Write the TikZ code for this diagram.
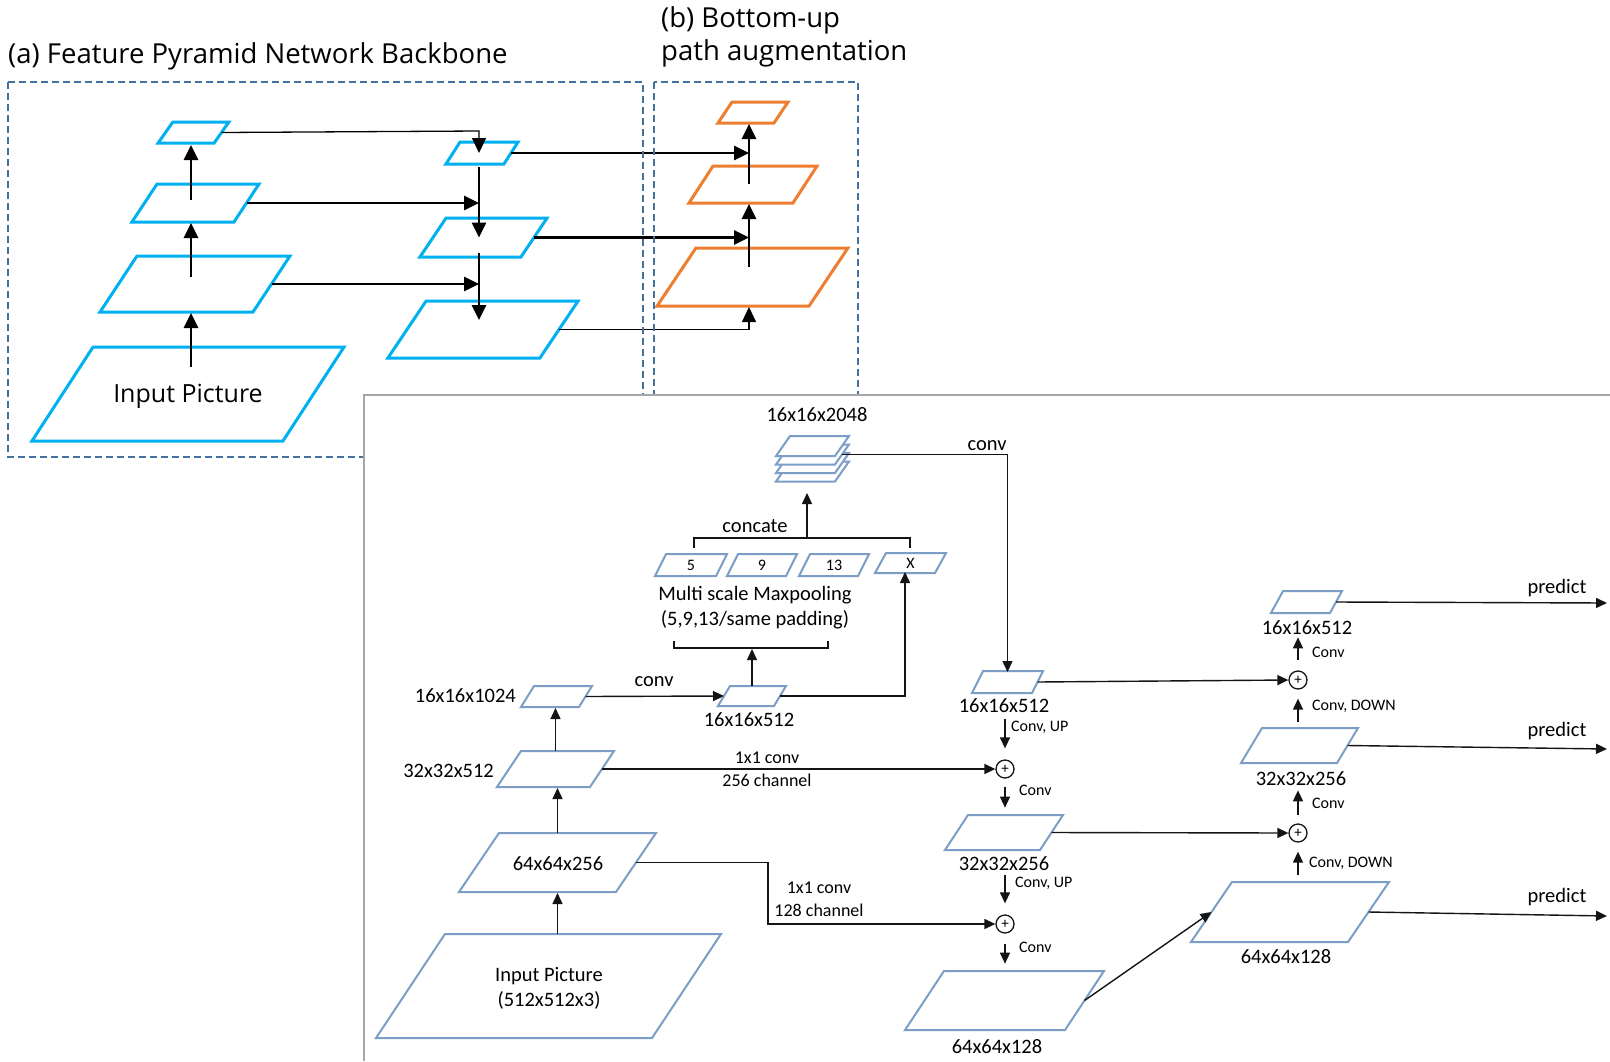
\documentclass[tikz,border=0pt]{standalone}
\usepackage{fontspec}
\setmainfont{Carlito}
\newfontfamily\hdfont{Open Sans}
\usetikzlibrary{arrows.meta,calc}
\definecolor{cyanb}{RGB}{0,176,240}
\definecolor{orng}{RGB}{237,125,49}
\definecolor{dashb}{RGB}{65,113,156}
\definecolor{pale}{RGB}{124,158,198}
\definecolor{framegray}{RGB}{166,166,166}
\definecolor{ink}{RGB}{20,20,20}
\begin{document}
\begin{tikzpicture}[x=1pt,y=-1pt,
  par/.style={rectangle, xslant=#1, transform shape, inner sep=0pt, outer sep=0pt},
  fpn/.style={par=#1, draw=cyanb, line width=3pt},
  pan/.style={par=#1, draw=orng, line width=3pt},
  fm/.style={par=#1, draw=pale, line width=2pt, fill=white},
  thick arrow/.style={draw=black, line width=2.7pt, -{Triangle[length=15pt,width=14pt]}},
  thin arrow/.style={draw=black, line width=1.3pt, -{Triangle[length=15pt,width=14pt]}},
  arr/.style={draw=ink, line width=1.4pt, -{Triangle[length=11pt,width=10pt]}},
  ln/.style={draw=ink, line width=1.4pt},
  hd/.style={inner sep=0pt, anchor=west, font=\hdfont\fontsize{27.5}{32}\selectfont},
  big/.style={inner sep=0pt, font=\fontsize{20.5}{25}\selectfont},
  mid/.style={inner sep=0pt, font=\fontsize{18}{22}\selectfont},
  small/.style={inner sep=0pt, anchor=west, font=\fontsize{16}{19}\selectfont},
  tiny/.style={inner sep=0pt, font=\fontsize{16}{18}\selectfont},
  plus/.style={circle, draw=ink, line width=1.3pt, minimum size=18pt, inner sep=0pt, fill=white, font=\fontsize{15}{15}\selectfont}
]
\useasboundingbox (0,0) rectangle (1610,1061);

% ---------------- (a) feature pyramid backbone ----------------
\node[hd] (ta) at (8,56) {(a) Feature Pyramid Network Backbone};
\node[hd] (tb1) at (661,20) {(b) Bottom-up};
\node[hd] (tb2) at (661,53) {path augmentation};

\node[fpn=0.7, minimum width=56, minimum height=21] (P1) at (193.5,132.5) {};
\node[fpn=0.66, minimum width=102, minimum height=38] (P2) at (195.5,203) {};
\node[fpn=0.66, minimum width=153, minimum height=56] (P3) at (195,284) {};
\node[fpn=0.65, minimum width=251, minimum height=94] (P4) at (188,394) {};
\node[inner sep=0pt, font=\hdfont\fontsize{25}{30}\selectfont] (tP4) at (188,396) {Input Picture};

\node[fpn=0.64, minimum width=58, minimum height=22] (Q1) at (482,153) {};
\node[fpn=0.67, minimum width=101, minimum height=39] (Q2) at (483.5,237.5) {};
\node[fpn=0.67, minimum width=152, minimum height=57] (Q3) at (483,329.5) {};

\node[pan=0.67, minimum width=56, minimum height=21] (R1) at (753,112.5) {};
\node[pan=0.65, minimum width=104, minimum height=37] (R2) at (753,184.5) {};
\node[pan=0.67, minimum width=152, minimum height=58] (R3) at (752.5,277) {};

% bottom-up arrows of the backbone
\coordinate (u1) at (191,367);
\coordinate (u2) at (191,277);
\coordinate (u3) at (191,200);
\draw[thick arrow] (u1) -- ([yshift=-1pt]u1 |- P3.south);
\draw[thick arrow] (u2) -- ([yshift=-1pt]u2 |- P2.south);
\draw[thick arrow] (u3) -- ([yshift=-2pt]u3 |- P1.south);

% top-down pathway
\coordinate (d0) at (479,131);
\coordinate (d1) at (479,167);
\coordinate (d2) at (479,253);
\coordinate (d3) at (479,320);
\draw[thin arrow] (P1.east) -- (d0) -- (d0 |- Q1.center);
\draw[thick arrow] (d1) -- (d1 |- Q2.center);
\draw[thick arrow] (d2) -- (d3);
\draw[thick arrow] (P2.east) -- (P2.east -| d1);
\draw[thick arrow] (P3.east) -- (P3.east -| d1);

% augmented bottom-up path
\coordinate (e0) at (749,307);
\coordinate (e2) at (749,267);
\coordinate (e3) at (749,184);
\draw[thin arrow] (Q3.east) -| (e0);
\draw[thick arrow] (e2) -- ([yshift=-1pt]e2 |- R2.south);
\draw[thick arrow] (e3) -- ([yshift=-1pt]e3 |- R1.south);
\draw[thick arrow] (Q1.east) -- (Q1.east -| e0);
\draw[thick arrow] (Q2.east) -- (Q2.east -| e0);

% dashed frames
\draw[dashb, line width=2pt, dash pattern=on 7pt off 4pt] (8,82) rectangle (643,457);
\draw[dashb, line width=2pt, dash pattern=on 7pt off 4pt] (654,82) rectangle (858,457);

% ---------------- detector network panel ----------------
\fill[white] (364,395) rectangle (1610,1061);
\draw[framegray, line width=1.6pt] (364,1061) -- (364,395) -- (1610,395);

% backbone stages
\node[fm=0.663, minimum width=276, minimum height=104] (F4) at (548.5,986) {};
\node[fm=0.678, minimum width=157, minimum height=59] (F3) at (557.5,862.5) {};
\node[fm=0.667, minimum width=93, minimum height=36] (F2) at (555.5,769) {};
\node[fm=0.62, minimum width=58, minimum height=21] (F1) at (556.5,696.5) {};
\node[fm=0.6, minimum width=56, minimum height=20] (M1) at (752,696) {};
\node[big, align=center] (tF4) at (549,988.5) {Input Picture\\(512x512x3)};
\node[big] (tF3) at (558,864) {64x64x256};
\node[big, anchor=east] (lF1) at (516,696) {16x16x1024};
\node[big, anchor=east] (lF2) at (494,771) {32x32x512};
\node[big] (lM1) at (749,720) {16x16x512};
\node[big] (lconv1) at (654,682) {conv};

\draw[arr] (F3.center |- F4.north) -- ([yshift=-1pt]F3.center |- F3.south);
\draw[arr] (F3.center |- F3.north) -- ([yshift=-1pt]F3.center |- F2.south);
\draw[arr] (F2.center |- F2.north) -- ([yshift=-1pt]F2.center |- F1.south);
\draw[arr] (F1.east) -- (M1.west);

% multi scale max pooling
\node[fm=0.5, minimum width=61, minimum height=22] (K5) at (691,565) {};
\node[fm=0.5, minimum width=59, minimum height=22] (K9) at (762,565) {};
\node[fm=0.5, minimum width=59, minimum height=22] (K13) at (834,565) {};
\node[fm=0.55, minimum width=60, minimum height=20] (KX) at (910.5,563) {};
\node[tiny] (t5) at (K5.center) {5};
\node[tiny] (t9) at (K9.center) {9};
\node[tiny] (t13) at (K13.center) {13};
\node[tiny] (tX) at (KX.center) {X};
\node[big, align=center] (lmp) at (755,607.5) {Multi scale Maxpooling\\(5,9,13/same padding)};
\node[big] (lcat) at (755,526) {concate};

\coordinate (bb) at (751,648);
\draw[ln] (674,641) -- (674,648) -- (828,648) -- (828,641);
\draw[arr] (M1.center |- M1.north) -- ([yshift=-1pt]M1.center |- bb);
\draw[arr] (M1.east) -| ([yshift=1pt]KX.south);

\coordinate (tb) at (807,538);
\coordinate (tbt) at (807,493);
\draw[ln] (694,548) -- (694,538) -- (910,538) -- (910,548);
\draw[arr] (tb) -- (tbt);

% concatenated feature stack
\node[fm=0.7, minimum width=59, minimum height=20] (S4) at (812.5,471.5) {};
\node[fm=0.7, minimum width=59, minimum height=20] (S3) at (812.5,463) {};
\node[fm=0.7, minimum width=59, minimum height=20] (S2) at (812.5,454.5) {};
\node[fm=0.7, minimum width=59, minimum height=20] (S1) at (812.5,446) {};
\node[big] (lS) at (817,415) {16x16x2048};

% neck: top-down
\node[fm=0.5, minimum width=60, minimum height=22] (A1) at (1007.5,682) {};
\node[fm=0.657, minimum width=95, minimum height=35] (A2) at (1004,832.5) {};
\node[fm=0.66, minimum width=160, minimum height=59] (A3) at (1004.5,1000.5) {};
\node[big] (lA1) at (1004,706) {16x16x512};
\node[big] (lA2) at (1004,864) {32x32x256};
\node[big] (lA3) at (997,1047) {64x64x128};
\node[plus] (C1) at (1005,769) {+};
\node[plus] (C2) at (1005,924) {+};

\draw[arr] (S2.east) -| ([yshift=-1pt]A1.center |- A1.north);
\node[big] (lconv2) at (987,446) {conv};

\draw[arr] (F2.east) -- (C1.west);
\node[mid] (l256a) at (767,758) {1x1 conv};
\node[mid] (l256b) at (767,780) {256 channel};

\coordinate (k) at (768,900);
\draw[arr] (F3.east) -- (F3.east -| k) -- (k |- C2.west) -- (C2.west);
\node[mid] (l128a) at (819,888) {1x1 conv};
\node[mid] (l128b) at (819,910) {128 channel};

\draw[arr] ($(C1.north)+(0,-40)$) -- ($(C1.north)+(0,-11)$);
\node[small] (lup1) at (1011,727) {Conv, UP};
\draw[arr] ($(C1.south)+(0,8)$) -- ($(C1.south)+(0,29)$);
\node[small] (lc1) at (1019,790) {Conv};
\draw[arr] ($(C2.north)+(0,-39)$) -- ($(C2.north)+(0,-11)$);
\node[small] (lup2) at (1015,883) {Conv, UP};
\draw[arr] ($(C2.south)+(0,10)$) -- ($(C2.south)+(0,30)$);
\node[small] (lc2) at (1019,947) {Conv};

% neck: bottom-up
\node[fm=0.55, minimum width=59, minimum height=22] (B1) at (1306.5,602) {};
\node[fm=0.6, minimum width=96, minimum height=35] (B2) at (1299.5,745.5) {};
\node[fm=0.683, minimum width=157, minimum height=60] (B3) at (1290,912) {};
\node[big] (lB1) at (1307,628) {16x16x512};
\node[big] (lB2) at (1301,779) {32x32x256};
\node[big] (lB3) at (1286,957) {64x64x128};
\node[plus] (C3) at (1298,680) {+};
\node[plus] (C4) at (1298,833) {+};

\draw[arr] (A3.east) -- (B3.west);
\draw[arr] (A2.east) -- (C4.west);
\draw[arr] (A1.east) -- (C3.west);

\draw[arr] ($(C4.south)+(0,32)$) -- ($(C4.south)+(0,9)$);
\node[small] (ld2) at (1309,863) {Conv, DOWN};
\draw[arr] ($(C4.north)+(0,-8)$) -- ($(C4.north)+(0,-33)$);
\node[small] (lc4) at (1312,803) {Conv};
\draw[arr] ($(C3.south)+(0,32)$) -- ($(C3.south)+(0,9)$);
\node[small] (ld1) at (1312,706) {Conv, DOWN};
\draw[arr] ($(C3.north)+(0,-10)$) -- ($(C3.north)+(0,-33)$);
\node[small] (lc3) at (1312,652) {Conv};

% prediction heads
\coordinate (o1) at (1607,603);
\coordinate (o2) at (1607,749);
\coordinate (o3) at (1607,916);
\draw[arr] (B1.east) -- (o1);
\draw[arr] (B2.east) -- (o2);
\draw[arr] (B3.east) -- (o3);
\node[big] (lp1) at (1557,588) {predict};
\node[big] (lp2) at (1557,731) {predict};
\node[big] (lp3) at (1557,897) {predict};
\end{tikzpicture}
\end{document}
